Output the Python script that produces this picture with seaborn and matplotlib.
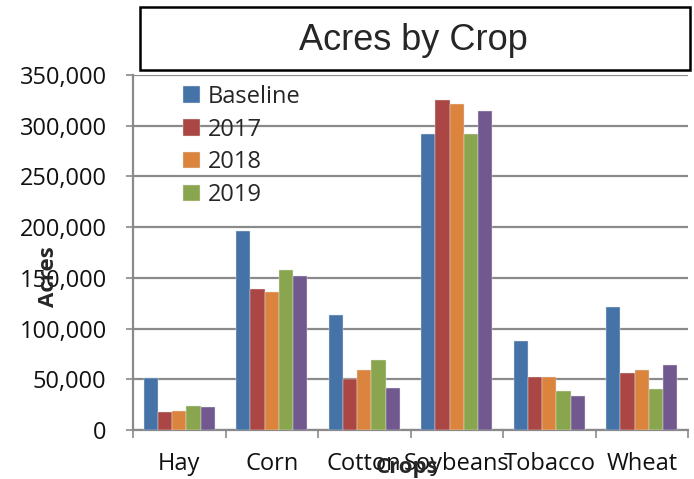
import matplotlib
matplotlib.use("Agg")
import matplotlib.pyplot as plt
from matplotlib.patches import Rectangle
from matplotlib.ticker import FuncFormatter, FixedLocator
import seaborn as sns
import pandas as pd

# Planted acres per crop and season
crops = ["Hay", "Corn", "Cotton", "Soybeans", "Tobacco", "Wheat"]
seasons = ["Baseline", "2017", "2018", "2019", "2020"]
baseline = [51000, 196000, 113000, 292000, 88000, 121000]
acres_2017 = [17700, 139500, 50700, 325700, 52100, 56100]
acres_2018 = [18700, 136000, 58700, 321500, 52100, 59100]
acres_2019 = [23700, 157500, 69000, 291700, 38300, 40900]
acres_2020 = [22300, 152000, 41700, 315000, 33700, 64000]
colors = ["#4572A7", "#AA4643", "#DB843D", "#89A54E", "#71588F"]

series = [baseline, acres_2017, acres_2018, acres_2019, acres_2020]
df = pd.DataFrame(
    [(c, s, v) for s, vals in zip(seasons, series) for c, v in zip(crops, vals)],
    columns=["Crop", "Season", "Acres"],
)

sns.set_theme(style="white")
plt.rcParams["font.family"] = ["Open Sans", "DejaVu Sans"]

fig = plt.figure(figsize=(6.94, 4.79), dpi=100)
ax = fig.add_axes([133 / 694, 1 - 430 / 479, 555 / 694, 355 / 479])

sns.barplot(
    data=df, x="Crop", y="Acres", hue="Season", order=crops,
    hue_order=seasons, palette=colors, saturation=1, width=0.77, gap=0,
    errorbar=None, edgecolor="#e6e6e6", linewidth=0.3, ax=ax, zorder=3,
)

grid_col = "#8a8a8a"
ax.set_ylim(0, 350000)
ax.set_xlim(-0.5, len(crops) - 0.5)
ax.yaxis.set_major_locator(FixedLocator(range(0, 350001, 50000)))
ax.yaxis.set_major_formatter(FuncFormatter(lambda v, p: f"{int(v):,}"))
ax.grid(axis="y", color=grid_col, linewidth=1.6, zorder=0)
ax.set_axisbelow(True)

for side in ("top", "right"):
    ax.spines[side].set_visible(False)
for side in ("left", "bottom"):
    ax.spines[side].set_color(grid_col)
    ax.spines[side].set_linewidth(1.6)

ax.tick_params(axis="y", which="major", direction="out", length=5, width=1.2,
               color=grid_col, pad=14, labelsize=17, left=True)
ax.tick_params(axis="x", which="major", length=0, pad=16, labelsize=17)
ax.set_xticks([i - 0.5 for i in range(len(crops) + 1)], minor=True)
ax.tick_params(axis="x", which="minor", direction="out", length=6, width=1.2,
               color=grid_col, bottom=True)
for lab in ax.get_xticklabels() + ax.get_yticklabels():
    lab.set_color("#111111")

ax.set_xlabel("")
ax.set_ylabel("")
fig.text(48 / 694, 1 - 277 / 479, "Acres", rotation=90, ha="center",
         va="center", fontsize=16, fontweight="bold")
fig.text(407 / 694, 1 - 467 / 479, "Crops", ha="center", va="center",
         fontsize=16, fontweight="bold")

handles, labels = ax.get_legend_handles_labels()
ax.legend(handles[:4], labels[:4], loc="upper left",
          bbox_to_anchor=(183 / 694, 1 - 85 / 479),
          bbox_transform=fig.transFigure, frameon=False, fontsize=17,
          handlelength=0.7, handleheight=0.7, handletextpad=0.35,
          labelspacing=0.37, borderpad=0, borderaxespad=0)

# Boxed chart title
fig.patches.append(Rectangle((140 / 694, 1 - 70 / 479), 550 / 694, 63 / 479,
                             transform=fig.transFigure, fill=False,
                             edgecolor="black", linewidth=1.8))
fig.text(413 / 694, 1 - 40 / 479, "Acres by Crop", ha="center", va="center",
         fontsize=26, family=["Liberation Sans", "DejaVu Sans"])

fig.savefig("out.png", dpi=100)
